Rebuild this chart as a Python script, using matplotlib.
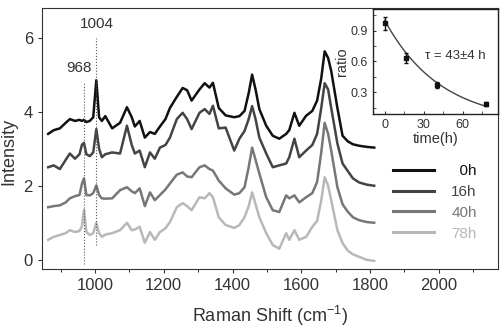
import matplotlib
matplotlib.use("Agg")
import matplotlib.pyplot as plt
from matplotlib.ticker import MultipleLocator
import numpy as np

plt.rcParams['font.family'] = ['Liberation Sans', 'DejaVu Sans']
plt.rcParams['mathtext.fontset'] = 'custom'
plt.rcParams['mathtext.rm'] = 'Liberation Sans'

# Raman spectra (offset stacked)
shift = [864, 880, 898, 915, 927, 942, 955, 962, 968, 975, 985, 995, 1004, 1012,
         1020, 1030, 1050, 1073, 1093, 1107, 1116, 1130, 1145, 1160, 1174, 1189,
         1205, 1218, 1238, 1255, 1268, 1281, 1304, 1319, 1333, 1343, 1360, 1380,
         1405, 1420, 1435, 1447, 1457, 1467, 1478, 1498, 1517, 1536, 1556, 1565,
         1580, 1594, 1614, 1632, 1646, 1658, 1668, 1678, 1687, 1705, 1720, 1735,
         1750, 1768, 1790, 1812]
int_0h = [3.40, 3.50, 3.55, 3.70, 3.80, 3.75, 3.78, 3.75, 3.78, 3.72, 3.75, 3.85, 4.85, 3.85,
          3.75, 3.88, 3.55, 3.70, 4.12, 3.85, 3.60, 3.75, 3.30, 3.45, 3.40, 3.60,
          3.80, 4.10, 4.40, 4.64, 4.58, 4.30, 4.60, 4.77, 4.65, 4.78, 4.10, 3.90,
          3.85, 3.88, 4.02, 4.50, 5.00, 4.60, 4.07, 3.62, 3.35, 3.27, 3.40, 3.50,
          3.97, 3.62, 3.89, 4.02, 4.30, 4.90, 5.63, 5.45, 5.10, 4.10, 3.35, 3.20,
          3.12, 3.08, 3.05, 3.03]
int_16h = [2.50, 2.55, 2.45, 2.70, 2.87, 2.73, 2.85, 3.10, 3.16, 2.85, 2.80, 2.90, 3.53, 3.00,
           2.77, 2.85, 2.90, 2.87, 3.62, 3.10, 2.87, 2.95, 2.50, 2.90, 2.73, 3.03,
           3.10, 3.30, 3.80, 3.97, 3.80, 3.53, 3.97, 4.07, 3.94, 4.16, 3.55, 3.57,
           2.95, 3.27, 3.48, 3.80, 4.15, 3.80, 3.30, 2.87, 2.50, 2.55, 2.60, 2.77,
           3.27, 2.77, 2.95, 3.10, 3.40, 4.10, 4.77, 4.60, 4.10, 3.14, 2.60, 2.40,
           2.20, 2.09, 2.03, 2.00]
int_40h = [1.42, 1.45, 1.47, 1.55, 1.66, 1.72, 1.75, 2.05, 2.20, 1.75, 1.74, 1.80, 2.01, 1.75,
           1.66, 1.65, 1.66, 1.88, 1.96, 1.85, 1.80, 1.93, 1.45, 1.82, 1.61, 1.75,
           1.90, 2.06, 2.30, 2.36, 2.25, 2.23, 2.50, 2.55, 2.45, 2.41, 2.14, 1.93,
           1.76, 1.80, 1.96, 2.50, 3.03, 2.70, 2.33, 1.69, 1.34, 1.29, 1.74, 1.66,
           1.74, 1.55, 1.69, 1.80, 2.10, 2.90, 3.70, 3.40, 2.95, 1.96, 1.50, 1.30,
           1.15, 1.07, 1.02, 1.00]
int_78h = [0.54, 0.62, 0.67, 0.72, 0.80, 0.75, 0.78, 0.90, 1.35, 0.75, 0.67, 0.72, 1.00, 0.72,
           0.62, 0.68, 0.72, 0.80, 1.00, 0.80, 0.82, 0.89, 0.46, 0.75, 0.54, 0.75,
           0.85, 1.02, 1.42, 1.53, 1.45, 1.34, 1.69, 1.66, 1.80, 1.69, 1.15, 0.94,
           0.86, 0.94, 1.15, 1.45, 1.82, 1.50, 1.15, 0.72, 0.40, 0.30, 0.72, 0.54,
           0.80, 0.54, 0.62, 0.89, 1.05, 1.60, 2.23, 2.00, 1.61, 0.80, 0.45, 0.25,
           0.15, 0.08, 0.00, -0.03]

labels = ['\u20070h', '16h', '40h', '78h']
colors = ['#111111', '#444444', '#777777', '#b8b8b8']

# marked bands
band_pos = [968, 1004]
band_lo = [-0.1, 0.4]
band_hi = [4.8, 6.0]

# inset: band ratio vs time
t_h = [0, 16, 40, 78]
ratio = [0.97, 0.63, 0.37, 0.19]
ratio_err = [0.06, 0.05, 0.03, 0.02]
tau = 43

fig = plt.figure(figsize=(5, 3.33), dpi=100)
ax = fig.add_axes([0.084, 0.192, 0.912, 0.784])

for y, c, lab in zip([int_0h, int_16h, int_40h, int_78h], colors, labels):
    ax.plot(shift, y, color=c, lw=1.8, label=lab, solid_joinstyle='round')

ax.vlines(band_pos, band_lo, band_hi, colors='#555555', linestyles=':', lw=0.8)
ax.text(953, 5.0, '968', ha='center', va='bottom', fontsize=11, color='#333333')
ax.text(1006, 6.18, '1004', ha='center', va='bottom', fontsize=11, color='#333333')

ax.set_xlim(846, 2172)
ax.set_ylim(-0.25, 6.8)
ax.xaxis.set_major_locator(MultipleLocator(200))
ax.xaxis.set_minor_locator(MultipleLocator(100))
ax.set_yticks([0, 2, 4, 6])
ax.tick_params(labelsize=12, colors='#333333', length=3)
ax.tick_params(which='minor', length=2)
for s in ax.spines.values():
    s.set_color('#333333')
ax.set_xlabel('Raman Shift (cm$^{\\mathregular{-1}}$)', fontsize=13, color='#333333', labelpad=8)
ax.set_ylabel('Intensity', fontsize=13, color='#333333', labelpad=2)
ax.yaxis.set_label_coords(-0.055, 0.45)

leg = ax.legend(loc='upper left', bbox_to_anchor=(0.74, 0.455), frameon=False,
                handlelength=2.7, handletextpad=1.1, labelspacing=0.45,
                fontsize=11, labelcolor='linecolor')
for h in leg.get_lines():
    h.set_linewidth(2.2)

# inset
ins = fig.add_axes([0.746, 0.658, 0.25, 0.315])
tt = np.linspace(0, 78, 100)
ins.plot(tt, np.exp(-tt / tau), color='#444444', lw=1.0)
ins.errorbar(t_h, ratio, yerr=ratio_err, fmt='s', ms=2.5, color='#111111',
             ecolor='#111111', elinewidth=1.0, capsize=1.5)
ins.text(54, 0.65, '\u03c4 = 43\u00b14 h', ha='center', va='center', fontsize=9.5, color='#333333')
ins.set_xlim(-9, 87)
ins.set_ylim(0.09, 1.11)
ins.set_xticks([0, 30, 60])
ins.set_yticks([0.3, 0.6, 0.9])
ins.xaxis.set_minor_locator(MultipleLocator(15))
ins.yaxis.set_minor_locator(MultipleLocator(0.15))
ins.tick_params(which='both', direction='in', length=2, labelsize=9, colors='#333333')
ins.set_xlabel('time(h)', fontsize=10.5, color='#333333', labelpad=1)
ins.set_ylabel('ratio', fontsize=10.5, color='#333333', labelpad=1)
for s in ins.spines.values():
    s.set_color('#222222')
    s.set_linewidth(1.0)

fig.savefig('out.png', dpi=100)
